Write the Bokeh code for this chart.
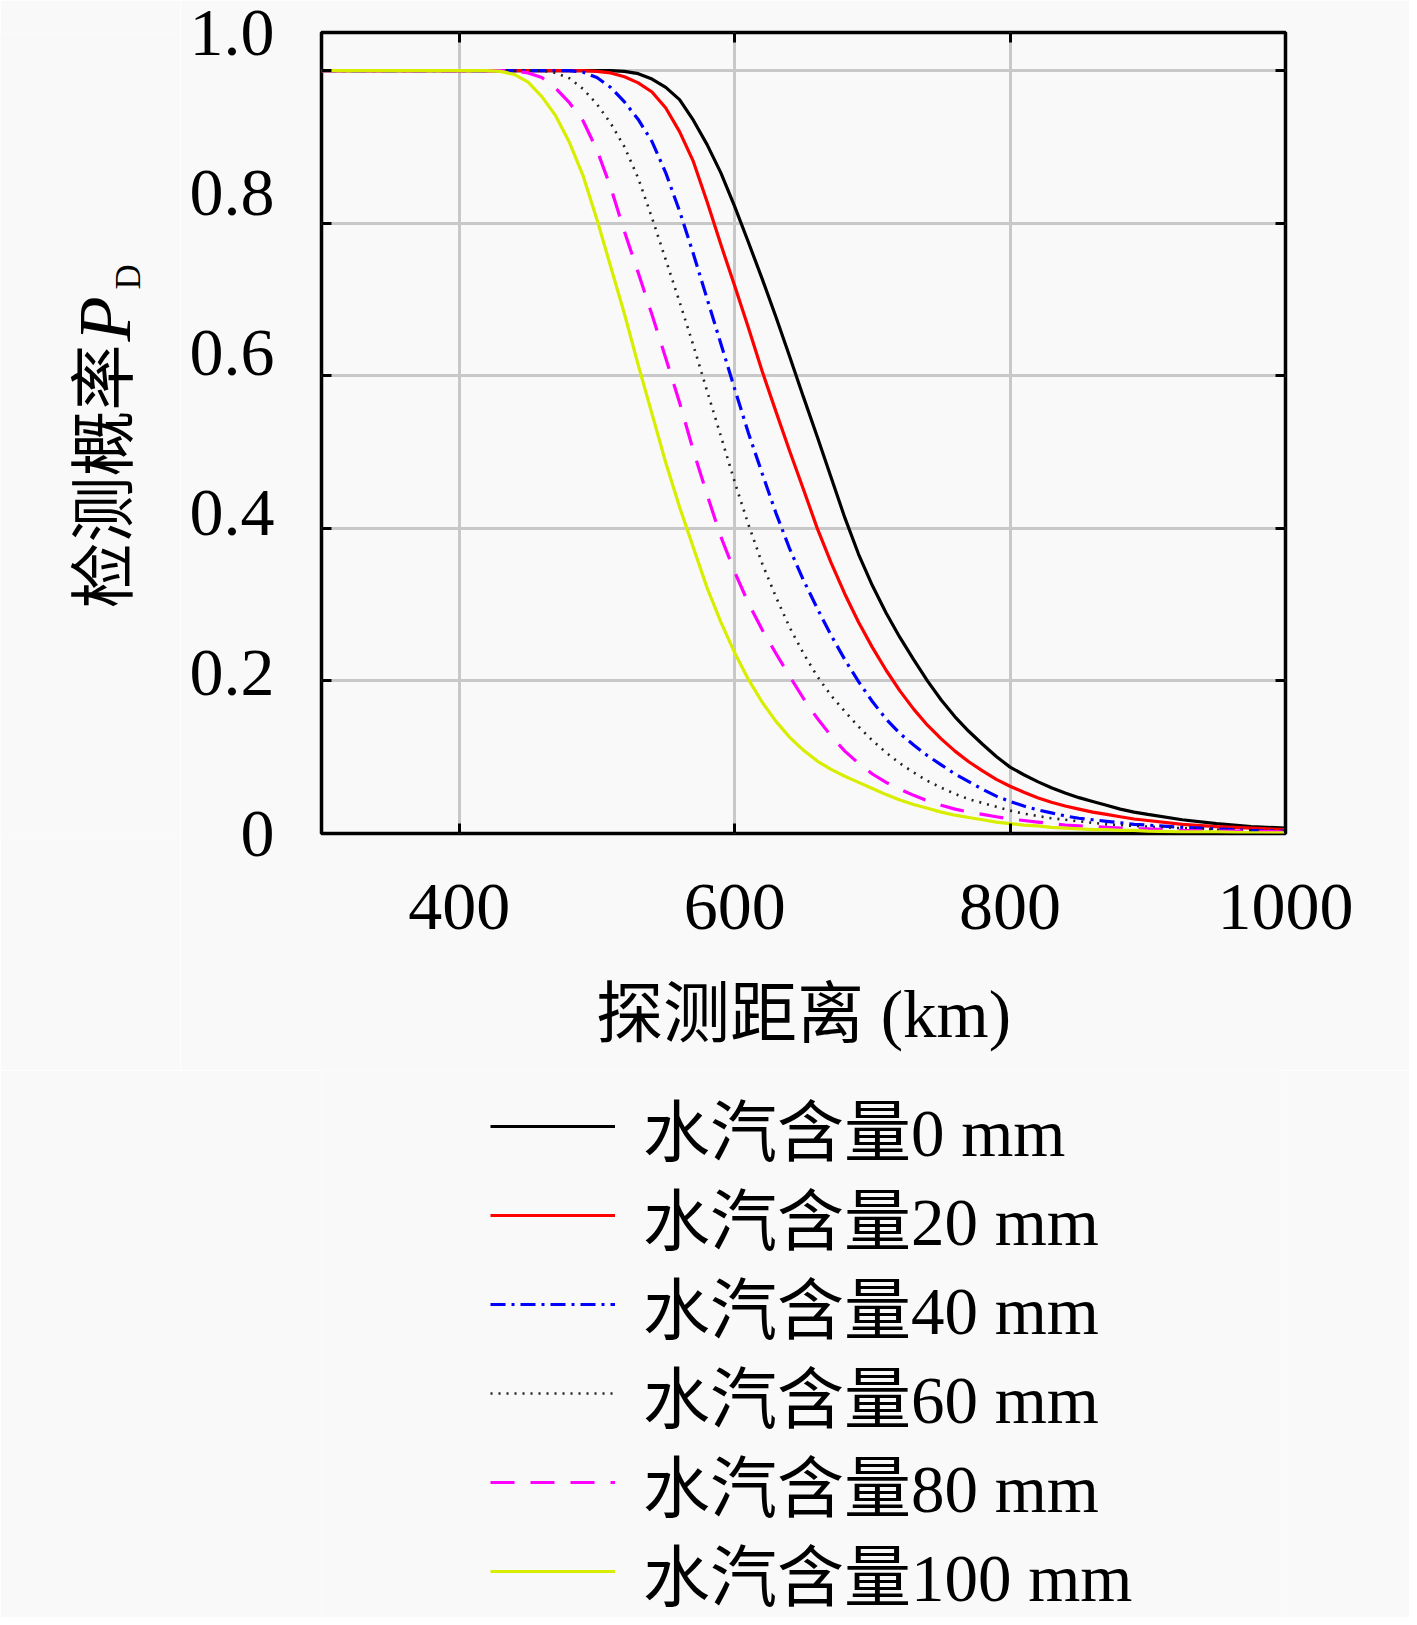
import math
from bokeh.plotting import figure
from bokeh.layouts import row, column
from bokeh.models import Range1d, FixedTicker, LinearAxis, Legend, LegendItem, Label
from bokeh.embed import file_html
from bokeh.resources import INLINE

# ---------------- data ----------------
distance_km = [300, 420, 430, 440, 450, 460, 470, 480, 490, 500, 510, 520, 530, 540,
               550, 560, 570, 580, 590, 600, 610, 620, 630, 640, 650, 660, 670, 680,
               690, 700, 710, 720, 730, 740, 750, 760, 770, 780, 790, 800,
               810, 820, 830, 840, 850, 860, 870, 880, 890, 900, 925, 950, 975, 1000]

pd_0mm = [1.0, 1.0, 1.0, 1.0, 1.0, 1.0, 1.0, 1.0, 1.0, 1.0, 1.0,
          0.999, 0.996, 0.989, 0.978, 0.962, 0.935, 0.903, 0.866, 0.822, 0.775,
          0.727, 0.677, 0.625, 0.572, 0.520, 0.467, 0.414, 0.366, 0.325, 0.289,
          0.257, 0.228, 0.200, 0.175, 0.153, 0.134, 0.117, 0.101, 0.087,
          0.077, 0.068, 0.060, 0.053, 0.047, 0.042, 0.037, 0.032, 0.028, 0.025,
          0.018, 0.013, 0.009, 0.007]

pd_20mm = [1.0, 1.0, 1.0, 1.0, 1.0, 1.0, 1.0, 1.0, 1.0,
           0.999, 0.997, 0.992, 0.984, 0.972, 0.951, 0.920, 0.881, 0.828, 0.772,
           0.718, 0.663, 0.606, 0.553, 0.501, 0.451, 0.400, 0.355, 0.314, 0.277,
           0.244, 0.214, 0.187, 0.163, 0.142, 0.124, 0.108, 0.094, 0.082, 0.071,
           0.062, 0.054, 0.047, 0.041, 0.036, 0.032, 0.028, 0.025, 0.022, 0.019,
           0.017, 0.012, 0.009, 0.007, 0.005]

pd_40mm = [1.0, 1.0, 1.0, 1.0, 1.0, 1.0, 1.0, 1.0,
           0.998, 0.991, 0.978, 0.959, 0.936, 0.907, 0.866, 0.816, 0.760, 0.701,
           0.642, 0.583, 0.525, 0.472, 0.420, 0.373, 0.332, 0.295, 0.260, 0.228,
           0.199, 0.173, 0.150, 0.131, 0.116, 0.102, 0.090, 0.078, 0.068, 0.058,
           0.049, 0.042, 0.036, 0.031, 0.027, 0.023, 0.020, 0.018, 0.016, 0.014,
           0.012, 0.011, 0.008, 0.006, 0.004, 0.003]

pd_60mm = [1.0, 1.0, 1.0, 1.0, 1.0, 1.0,
           0.997, 0.990, 0.976, 0.956, 0.931, 0.900, 0.859, 0.807, 0.752, 0.697,
           0.640, 0.580, 0.521, 0.461, 0.405, 0.354, 0.310, 0.270, 0.236, 0.206,
           0.181, 0.160, 0.140, 0.122, 0.106, 0.092, 0.080, 0.069, 0.060, 0.052,
           0.045, 0.040, 0.035, 0.030, 0.026, 0.023, 0.020, 0.018, 0.016, 0.014,
           0.012, 0.011, 0.010, 0.009, 0.007, 0.005, 0.004, 0.003]

pd_80mm = [1.0, 1.0, 1.0, 1.0,
           0.997, 0.991, 0.977, 0.958, 0.934, 0.896, 0.847, 0.789, 0.735, 0.680,
           0.623, 0.565, 0.502, 0.444, 0.389, 0.343, 0.302, 0.267, 0.236, 0.206,
           0.177, 0.151, 0.128, 0.108, 0.092, 0.078, 0.067, 0.058, 0.050, 0.043,
           0.037, 0.032, 0.028, 0.025, 0.022, 0.019, 0.017, 0.015, 0.013, 0.011,
           0.010, 0.009, 0.008, 0.007, 0.006, 0.006, 0.004, 0.003, 0.003, 0.002]

pd_100mm = [1.0, 1.0,
            0.999, 0.995, 0.985, 0.966, 0.941, 0.906, 0.862, 0.805, 0.743, 0.681,
            0.614, 0.550, 0.486, 0.428, 0.375, 0.322, 0.277, 0.237, 0.202, 0.172,
            0.147, 0.126, 0.109, 0.095, 0.084, 0.075, 0.067, 0.059, 0.051, 0.044,
            0.038, 0.033, 0.028, 0.024, 0.021, 0.018, 0.015, 0.013, 0.011, 0.010,
            0.008, 0.007, 0.006, 0.005, 0.005, 0.004, 0.004, 0.003, 0.002, 0.002,
            0.001, 0.001]

series_labels = ["水汽含量0 mm", "水汽含量20 mm", "水汽含量40 mm",
                 "水汽含量60 mm", "水汽含量80 mm", "水汽含量100 mm"]

x_tick_values = [400, 600, 800, 1000]
x_top_ticks = [400, 600, 800]
y_grid_values = [0.2, 0.4, 0.6, 0.8, 1.0]
y_label_positions = [0.0, 0.21, 0.42, 0.63, 0.84, 1.05]
y_label_texts = ["0", "0.2", "0.4", "0.6", "0.8", "1.0"]

x_title = "探测距离 (km)"
y_title_cjk = "检测概率"
y_title_sym = "P"
y_title_sub = "D"

# ---------------- geometry / styling ----------------
BG = "#f9f9f9"
SERIF = "'Liberation Serif', 'Noto Sans CJK SC'"
TOTAL_W = 1409
TOTAL_H = 1617
TITLE_W = 180
MAIN_W = TOTAL_W - TITLE_W
MAIN_H = 1070
LEG_H = TOTAL_H - MAIN_H
FRAME_LEFT = 321          # page px of the plot frame's left edge
FRAME_TOP = 32
FRAME_BOTTOM = 833
FRAME_RIGHT_BORDER = 124
LEG_GLYPH_LEFT = 490      # page px where the legend line samples start
LEG_FIRST_ROW = 1126
LEG_PITCH = 89
LEG_ROW_H = 100
series_styles = [
    dict(color="#000000", line_dash="solid", line_width=3.2),
    dict(color="#ff0000", line_dash="solid", line_width=3.2),
    dict(color="#0000ff", line_dash="15 6 3 6", line_width=3.2),
    dict(color="#222222", line_dash="2 6", line_width=2.6),
    dict(color="#ff00ff", line_dash="24 16", line_width=3.2),
    dict(color="#d8ee00", line_dash="solid", line_width=3.2),
]
series = [pd_0mm, pd_20mm, pd_40mm, pd_60mm, pd_80mm, pd_100mm]

# ---------------- main plot ----------------
p = figure(width=MAIN_W, height=MAIN_H,
           x_range=Range1d(300, 1000), y_range=Range1d(0, 1.05),
           output_backend="svg", toolbar_location=None,
           min_border_left=FRAME_LEFT - TITLE_W, min_border_right=FRAME_RIGHT_BORDER,
           min_border_top=FRAME_TOP, min_border_bottom=MAIN_H - FRAME_BOTTOM)
p.background_fill_color = BG
p.border_fill_color = BG
p.outline_line_color = "black"
p.outline_line_width = 3.5

p.xgrid.ticker = FixedTicker(ticks=x_tick_values)
p.ygrid.ticker = FixedTicker(ticks=y_grid_values)
p.grid.grid_line_color = "#c8c8c8"
p.grid.grid_line_width = 3

xa = p.xaxis[0]
xa.ticker = FixedTicker(ticks=x_tick_values)
xa.major_tick_in = 10
xa.major_tick_out = 0
xa.major_tick_line_width = 3
xa.minor_tick_line_color = None
xa.axis_line_color = None
xa.major_label_text_font = SERIF
xa.major_label_text_font_size = "68px"
xa.major_label_text_color = "black"
xa.major_label_standoff = 51
xa.axis_label = x_title
xa.axis_label_text_font = SERIF
xa.axis_label_text_font_size = "67px"
xa.axis_label_text_font_style = "normal"
xa.axis_label_text_color = "black"
xa.axis_label_standoff = 45

def tick_only(axis, ticks):
    axis.ticker = FixedTicker(ticks=ticks)
    axis.major_tick_in = 10
    axis.major_tick_out = 0
    axis.major_tick_line_width = 3
    axis.minor_tick_line_color = None
    axis.axis_line_color = None
    axis.major_label_text_color = None
    axis.major_label_text_font_size = "1px"
    axis.major_label_standoff = 0

tick_only(p.yaxis[0], y_grid_values)

ylab_axis = LinearAxis(ticker=FixedTicker(ticks=y_label_positions),
                       major_label_overrides=dict(zip(y_label_positions, y_label_texts)),
                       major_tick_in=0, major_tick_out=0, major_tick_line_color=None,
                       minor_tick_line_color=None, axis_line_color=None,
                       major_label_text_font=SERIF, major_label_text_font_size="68px",
                       major_label_text_color="black", major_label_standoff=47)
p.add_layout(ylab_axis, "left")

right_axis = LinearAxis()
tick_only(right_axis, y_grid_values)
p.add_layout(right_axis, "right")
top_axis = LinearAxis()
tick_only(top_axis, x_top_ticks)
p.add_layout(top_axis, "above")

for ys, st in zip(series, series_styles):
    p.line(distance_km, ys, line_color=st["color"], line_width=st["line_width"],
           line_dash=st["line_dash"])

# ---------------- y-axis title strip: 检测概率 P_D ----------------
t = figure(width=TITLE_W, height=MAIN_H, x_range=Range1d(0, 1), y_range=Range1d(0, 1),
           output_backend="svg", toolbar_location=None,
           x_axis_location=None, y_axis_location=None,
           min_border_left=0, min_border_right=0,
           min_border_top=FRAME_TOP, min_border_bottom=MAIN_H - FRAME_BOTTOM)
t.background_fill_color = BG
t.border_fill_color = BG
t.outline_line_color = None
t.grid.visible = False
t.add_layout(Label(x=97.5, y=FRAME_BOTTOM - 608, x_units="screen", y_units="screen",
                   text=y_title_cjk, angle=math.pi / 2, text_align="left",
                   text_baseline="middle", text_font="Noto Sans CJK SC",
                   text_font_size="66px", text_color="black"))
t.add_layout(Label(x=104, y=FRAME_BOTTOM - 341, x_units="screen", y_units="screen",
                   text=y_title_sym, angle=math.pi / 2, text_align="left",
                   text_baseline="middle", text_font="Liberation Serif",
                   text_font_style="italic", text_font_size="74px", text_color="black"))
t.add_layout(Label(x=128, y=FRAME_BOTTOM - 289, x_units="screen", y_units="screen",
                   text=y_title_sub, angle=math.pi / 2, text_align="left",
                   text_baseline="middle", text_font="Liberation Serif",
                   text_font_size="35px", text_color="black"))

# ---------------- legend strip below the plot ----------------
lg = figure(width=TOTAL_W, height=LEG_H, x_range=Range1d(2000, 3000), y_range=Range1d(2, 3),
            output_backend="svg", toolbar_location=None,
            x_axis_location=None, y_axis_location=None,
            min_border_left=FRAME_LEFT, min_border_right=FRAME_RIGHT_BORDER,
            min_border_top=0, min_border_bottom=0)
lg.background_fill_color = BG
lg.border_fill_color = BG
lg.outline_line_color = None
lg.grid.visible = False
for i, (label, ys, st) in enumerate(zip(series_labels, series, series_styles)):
    r = lg.line(distance_km, ys, line_color=st["color"], line_width=st["line_width"],
                line_dash=st["line_dash"])
    centre = LEG_FIRST_ROW + i * LEG_PITCH
    row_top = centre - LEG_ROW_H / 2
    leg = Legend(items=[LegendItem(label=label, renderers=[r])],
                 location=(LEG_GLYPH_LEFT - FRAME_LEFT, TOTAL_H - row_top - LEG_ROW_H),
                 orientation="vertical",
                 glyph_width=125, glyph_height=LEG_ROW_H, label_height=LEG_ROW_H,
                 label_standoff=28, spacing=0, padding=0, margin=0,
                 label_text_font=SERIF, label_text_font_size="67px",
                 label_text_color="black",
                 border_line_color=None, background_fill_alpha=0)
    lg.add_layout(leg, "center")

layout = column(row(t, p), lg)
html = file_html(layout, INLINE)
html = html.replace("<body>", '<body style="background-color: %s;">' % BG, 1)
open("out.html", "w").write(html)
